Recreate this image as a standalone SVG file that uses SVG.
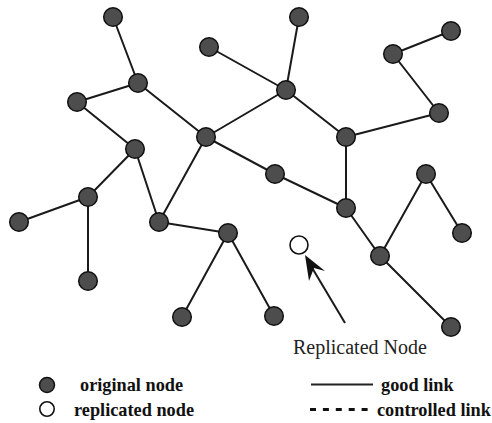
<svg xmlns="http://www.w3.org/2000/svg" width="492" height="423" viewBox="0 0 492 423">
<style>
.n{fill:#4d4d4d;stroke:#111;stroke-width:1.5}
.r{fill:#fff;stroke:#111;stroke-width:1.6}
.e{stroke:#1a1a1a;stroke-width:2;fill:none}
.lab{font-family:"Liberation Serif","Times New Roman",serif;font-size:20px;fill:#222}
.leg{font-family:"Liberation Serif","Times New Roman",serif;font-size:18.3px;font-weight:bold;fill:#111}
</style>
<rect width="492" height="423" fill="#fff"/>
<g id="connectors">
<path class="e" d="M113,17 L138,83 M138,83 L77,102 M138,83 L206,137 M77,102 L135,149 M135,149 L88,197 M135,149 L159,222 M209,47 L286,90 M206,137 L286,90 M206,137 L275,174 M206,137 L159,222 M299,17 L286,90 M286,90 L346,137 M346,137 L439,113 M439,113 L393,54 M393,54 L451,31 M346,137 L346,208 M275,174 L346,208 M346,208 L380,256 M380,256 L426,174 M426,174 L462,233 M380,256 L451,327 M88,197 L19,222 M88,197 L88,281 M159,222 L228,233 M228,233 L182,317 M228,233 L274,316"/>
<line class="e" x1="345" y1="323" x2="311" y2="266"/>
<polygon points="305,255 309,281 314,268 325,271" fill="#111"/>
</g>
<g id="node1"><circle class="n" cx="113" cy="17" r="9.3"/></g>
<g id="node2"><circle class="n" cx="138" cy="83" r="9.3"/></g>
<g id="node3"><circle class="n" cx="77" cy="102" r="9.3"/></g>
<g id="node4"><circle class="n" cx="135" cy="149" r="9.3"/></g>
<g id="node5"><circle class="n" cx="209" cy="47" r="9.3"/></g>
<g id="node6"><circle class="n" cx="206" cy="137" r="9.3"/></g>
<g id="node7"><circle class="n" cx="299" cy="17" r="9.3"/></g>
<g id="node8"><circle class="n" cx="286" cy="90" r="9.3"/></g>
<g id="node9"><circle class="n" cx="346" cy="137" r="9.3"/></g>
<g id="node10"><circle class="n" cx="393" cy="54" r="9.3"/></g>
<g id="node11"><circle class="n" cx="451" cy="31" r="9.3"/></g>
<g id="node12"><circle class="n" cx="439" cy="113" r="9.3"/></g>
<g id="node13"><circle class="n" cx="275" cy="174" r="9.3"/></g>
<g id="node14"><circle class="n" cx="346" cy="208" r="9.3"/></g>
<g id="node15"><circle class="n" cx="426" cy="174" r="9.3"/></g>
<g id="node16"><circle class="n" cx="462" cy="233" r="9.3"/></g>
<g id="node17"><circle class="n" cx="380" cy="256" r="9.3"/></g>
<g id="node18"><circle class="n" cx="451" cy="327" r="9.3"/></g>
<g id="node19"><circle class="n" cx="88" cy="197" r="9.3"/></g>
<g id="node20"><circle class="n" cx="19" cy="222" r="9.3"/></g>
<g id="node21"><circle class="n" cx="88" cy="281" r="9.3"/></g>
<g id="node22"><circle class="n" cx="159" cy="222" r="9.3"/></g>
<g id="node23"><circle class="n" cx="228" cy="233" r="9.3"/></g>
<g id="node24"><circle class="n" cx="182" cy="317" r="9.3"/></g>
<g id="node25"><circle class="n" cx="274" cy="316" r="9.3"/></g>
<g id="replicated"><circle class="r" cx="299" cy="245" r="9"/></g>
<text class="lab" x="293" y="354">Replicated Node</text>
<g id="legend">
<circle class="n" cx="47" cy="385" r="7.5"/>
<circle class="r" cx="47" cy="409" r="7.2"/>
<text class="leg" x="80" y="391">original node</text>
<text class="leg" x="74" y="416">replicated node</text>
<line x1="311" y1="384.5" x2="373" y2="384.5" stroke="#222" stroke-width="1.8"/>
<line x1="310" y1="409.5" x2="373" y2="409.5" stroke="#111" stroke-width="3.2" stroke-dasharray="6,6.9"/>
<text class="leg" x="381" y="391">good link</text>
<text class="leg" x="377" y="416">controlled link</text>
</g>
</svg>
